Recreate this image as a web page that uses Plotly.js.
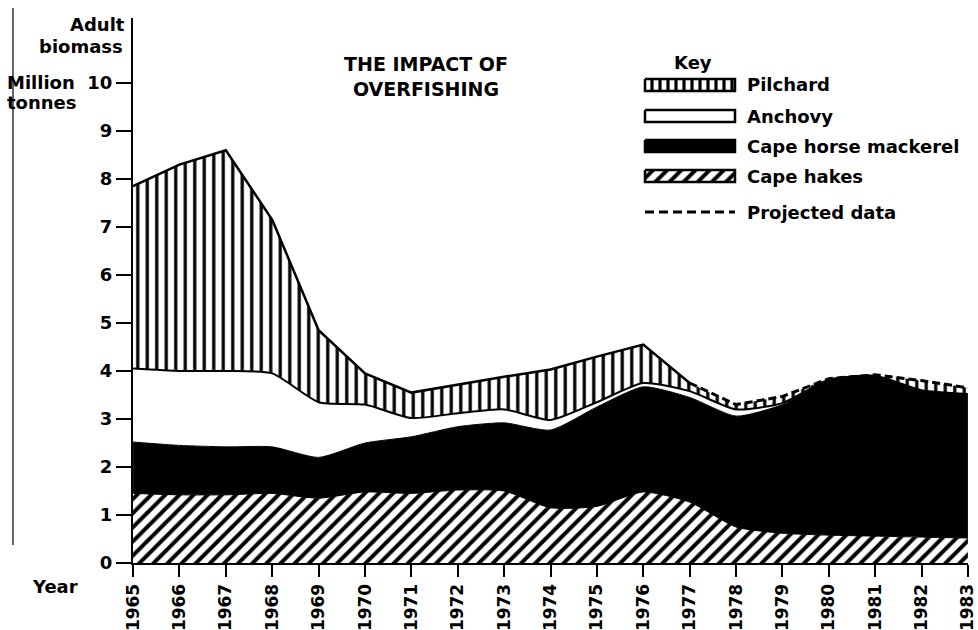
<!DOCTYPE html>
<html><head><meta charset="utf-8">
<script src="https://cdn.plot.ly/plotly-3.0.1.min.js"></script>
<style>html,body{margin:0;padding:0;background:#fff}#chart{width:978px;height:630px}</style>
</head><body><div id="chart"></div>
<script>
// ---- data (million tonnes of adult biomass) ----
const years = [1965,1966,1967,1968,1969,1970,1971,1972,1973,1974,1975,1976,1977,1978,1979,1980,1981,1982,1983];
const capeHakes         = [1.45,1.42,1.42,1.45,1.35,1.48,1.45,1.52,1.50,1.15,1.18,1.48,1.27,0.75,0.62,0.58,0.56,0.54,0.52];
const capeHorseMackerel = [1.07,1.03,1.00,0.97,0.85,1.02,1.18,1.32,1.42,1.62,2.07,2.19,2.18,2.31,2.68,3.24,3.34,3.06,3.00];
const anchovy           = [1.53,1.55,1.58,1.53,1.15,0.80,0.39,0.28,0.28,0.21,0.10,0.08,0.13,0.14,0.03,0.00,0.00,0.00,0.00];
const pilchard          = [3.80,4.30,4.60,3.20,1.50,0.65,0.53,0.60,0.68,1.05,0.95,0.80,0.17,0.10,0.14,0.02,0.02,0.20,0.13];
const projectedFromYear = 1977;
const yTickVals = [0,1,2,3,4,5,6,7,8,9,10];
const seriesNames = ['Pilchard','Anchovy','Cape horse mackerel','Cape hakes'];
const chartTitle = 'THE IMPACT OF<br>OVERFISHING';

// ---- geometry / style ----
const W = 978, H = 630, L = 133, R = 10, T = 18, B = 67;
const px2x = px => (px - L) / (W - L - R);
const py2y = py => (H - B - py) / (H - T - B);
const FONT = {family: 'DejaVu Sans, Arial, sans-serif', color: '#000', weight: 'bold'};
const f = s => Object.assign({}, FONT, {size: s});

const cum = (a, b) => a.map((v, i) => Math.round((v + b[i]) * 1000) / 1000);
const cumH = capeHakes.slice();
const cumM = cum(cumH, capeHorseMackerel);
const cumA = cum(cumM, anchovy);
const cumP = cum(cumA, pilchard);

const hatchDiag = {shape: '/', fgcolor: '#000', bgcolor: '#fff', size: 10, solidity: 0.4};
const hatchVert = {shape: '|', fgcolor: '#000', bgcolor: '#fff', size: 9.5, solidity: 0.34};
const SPL = {shape: 'spline', smoothing: 0.6};

const traces = [
  {x: years, y: cumH, name: seriesNames[3], mode: 'lines', fill: 'tozeroy', fillpattern: hatchDiag,
   line: Object.assign({color: '#000', width: 1}, SPL)},
  {x: years, y: cumM, name: seriesNames[2], mode: 'lines', fill: 'tonexty', fillcolor: '#000',
   line: Object.assign({color: '#000', width: 1}, SPL)},
  {x: years, y: cumA, name: seriesNames[1], mode: 'lines', fill: 'tonexty', fillcolor: '#fff',
   line: Object.assign({color: '#000', width: 2}, SPL)},
  {x: years, y: cumP, name: seriesNames[0], mode: 'lines', fill: 'tonexty', fillpattern: hatchVert,
   line: {color: '#000', width: 0}},
  {x: years.filter(y => y <= projectedFromYear), y: cumP.filter((v, i) => years[i] <= projectedFromYear),
   mode: 'lines', line: {color: '#000', width: 2.5}, cliponaxis: false},
  {x: years.filter(y => y >= projectedFromYear), y: cumP.filter((v, i) => years[i] >= projectedFromYear),
   mode: 'lines', line: {color: '#000', width: 3, dash: '8px,4px'}, cliponaxis: false}
];

// ---- custom key (own overlay axis in pixel units) ----
const key = {x0: 645, x1: 735, half: 6, rows: [85, 116, 146, 176, 212], labelX: 745};
const rect = (cy) => ({x: [key.x0, key.x1, key.x1, key.x0, key.x0],
                       y: [cy - key.half, cy - key.half, cy + key.half, cy + key.half, cy - key.half]});
const swatchStyles = [
  {fill: 'toself', fillpattern: {shape: '|', fgcolor: '#000', bgcolor: '#fff', size: 8, solidity: 0.4}},
  {fill: 'toself', fillcolor: '#fff'},
  {fill: 'toself', fillcolor: '#000'},
  {fill: 'toself', fillpattern: hatchDiag}
];
swatchStyles.forEach((s, i) => {
  const r = rect(key.rows[i]);
  traces.push(Object.assign({x: r.x, y: r.y, xaxis: 'x2', yaxis: 'y2', mode: 'lines',
    line: {color: '#000', width: 2.5}}, s));
});
traces.push({x: [key.x0, key.x1], y: [key.rows[4], key.rows[4]], xaxis: 'x2', yaxis: 'y2', mode: 'lines',
  line: {color: '#000', width: 3, dash: '9px,5px'}});

const annotations = [
  {text: 'Adult', x: 127, y: 24},
  {text: 'biomass', x: 125, y: 46},
  {text: 'Million', x: 5, y: 82, anchor: 'left'},
  {text: 'tonnes', x: 5, y: 103, anchor: 'left'},
  {text: 'Year', x: 30, y: 586, anchor: 'left'},
  {text: 'Key', x: 672, y: 62, anchor: 'left'}
].map(a => ({text: a.text, xref: 'paper', yref: 'paper', x: px2x(a.x), y: py2y(a.y),
  xanchor: a.anchor || 'right', yanchor: 'middle', showarrow: false, font: f(18)}));
seriesNames.concat(['Projected data']).forEach((n, i) => annotations.push({
  text: n, xref: 'paper', yref: 'paper', x: px2x(key.labelX), y: py2y(key.rows[i]),
  xanchor: 'left', yanchor: 'middle', showarrow: false, font: f(18)}));

const layout = {
  width: W, height: H, margin: {l: L, r: R, t: T, b: B, pad: 0},
  paper_bgcolor: '#fff', plot_bgcolor: 'rgba(0,0,0,0)', showlegend: false, hovermode: false,
  title: {text: chartTitle, x: 426 / W, xanchor: 'center', xref: 'container',
          y: 1 - 71 / H, yanchor: 'middle', font: f(19)},
  xaxis: {range: [years[0] - 0.002, years[years.length - 1] + 0.002], tickvals: years, ticktext: years.map(String),
          tickangle: -90, ticks: 'outside', ticklen: 12, tickwidth: 2, tickcolor: '#000',
          ticklabeloverflow: 'allow',
          showline: true, linecolor: '#000', linewidth: 2, showgrid: false, zeroline: false,
          tickfont: f(17), fixedrange: true},
  yaxis: {range: [0, (H - B - T) / 48], tickvals: yTickVals, ticktext: yTickVals.map(String),
          ticks: 'outside', ticklen: 15, tickwidth: 2, tickcolor: '#000',
          showline: true, linecolor: '#000', linewidth: 2, showgrid: false, zeroline: false,
          tickfont: f(18), fixedrange: true},
  xaxis2: {domain: [px2x(key.x0 - 5), px2x(key.x1 + 5)], range: [key.x0 - 5, key.x1 + 5],
           visible: false, anchor: 'y2', fixedrange: true},
  yaxis2: {domain: [py2y(230), py2y(70)], range: [230, 70], autorange: false,
           visible: false, anchor: 'x2', fixedrange: true},
  annotations: annotations,
  shapes: [
    {type: 'line', xref: 'paper', yref: 'paper', x0: px2x(13), x1: px2x(13), y0: py2y(8), y1: py2y(545),
     line: {color: '#333', width: 1.5}}
  ]
};

Plotly.newPlot('chart', traces, layout, {staticPlot: true, displayModeBar: false});
</script>
</body></html>
